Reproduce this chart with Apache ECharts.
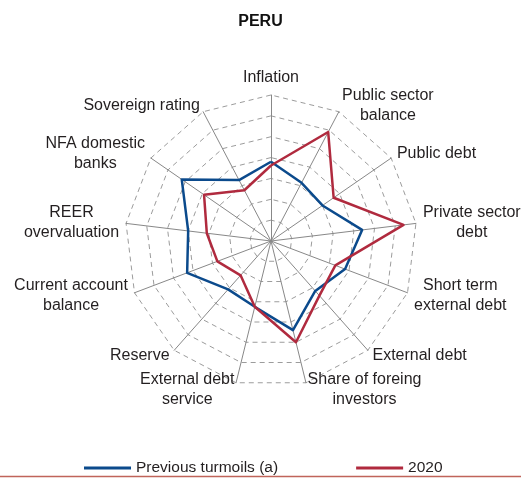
<!DOCTYPE html>
<html>
<head>
<meta charset="utf-8">
<script src="https://cdn.jsdelivr.net/npm/echarts@6/dist/echarts.min.js"></script>
<style>
html,body{margin:0;padding:0;background:#fff;}
#chart{width:521px;height:478px;}
</style>
</head>
<body>
<div id="chart"></div>
<script>
// Indicators listed clockwise starting from the top
const indicators = ['Inflation', 'Public sector\nbalance', 'Public debt', 'Private sector\ndebt',
  'Short term\nexternal debt', 'External debt', 'Share of foreing\ninvestors', 'External debt\nservice',
  'Reserve', 'Current account\nbalance', 'REER\novervaluation', 'NFA domestic\nbanks', 'Sovereign rating'];
const previousTurmoils = [3.8, 3.15, 3.0, 4.4, 3.8, 3.2, 4.4, 3.25, 3.1, 4.3, 4.0, 5.2, 3.3];
const values2020 = [3.62, 5.9, 3.65, 6.4, 3.3, 3.5, 5.0, 3.25, 2.2, 2.75, 3.1, 3.9, 2.75];
const seriesNames = ['Previous turmoils (a)', '2020'];
const scaleMax = 7;

// ECharts places radar indicators counter-clockwise; reorder to get clockwise layout
function clockwise(arr) { return [arr[0]].concat(arr.slice(1).reverse()); }

const chart = echarts.init(document.getElementById('chart'));
const textColor = '#231f20';
const fontFam = '"Liberation Sans", Arial, Helvetica, sans-serif';
chart.setOption({
  backgroundColor: '#fff',
  animation: false,
  title: {
    text: 'PERU', left: 'center', top: 9,
    textStyle: {fontFamily: fontFam, fontWeight: 'bold', fontSize: 16, color: '#111'}
  },
  legend: {
    left: 79, top: 455, itemWidth: 47, itemHeight: 3, itemGap: 78, icon: 'rect',
    data: seriesNames,
    textStyle: {fontFamily: '"Liberation Sans Narrow", "Liberation Sans", Arial, sans-serif', fontSize: 15.5, color: textColor}
  },
  radar: {
    center: [271, 241],
    radius: 146,
    startAngle: 90,
    splitNumber: 7,
    shape: 'polygon',
    nameGap: 7,
    indicator: clockwise(indicators).map(n => ({name: n, max: scaleMax, min: 0})),
    axisName: {
      color: textColor, fontFamily: fontFam, fontSize: 16,
      formatter: v => v.split('\n').map(s => '{a|' + s + '}').join('\n'),
      rich: {a: {align: 'center', fontFamily: fontFam, fontSize: 16, color: textColor, lineHeight: 20}}
    },
    axisLine: {lineStyle: {color: '#888888', width: 1}},
    splitLine: {lineStyle: {color: '#9c9c9c', width: 1, type: [5, 4]}},
    splitArea: {show: false}
  },
  graphic: [{
    type: 'line', shape: {x1: 0, y1: 476.5, x2: 521, y2: 476.5},
    style: {stroke: '#c0645a', lineWidth: 1.5}
  }],
  series: [{
    type: 'radar',
    symbol: 'none',
    data: [
      {name: seriesNames[0], value: clockwise(previousTurmoils),
        lineStyle: {color: '#0b4a8c', width: 2.5}, itemStyle: {color: '#0b4a8c'}},
      {name: seriesNames[1], value: clockwise(values2020),
        lineStyle: {color: '#b02a3e', width: 2.5}, itemStyle: {color: '#b02a3e'}}
    ]
  }]
});
</script>
</body>
</html>
